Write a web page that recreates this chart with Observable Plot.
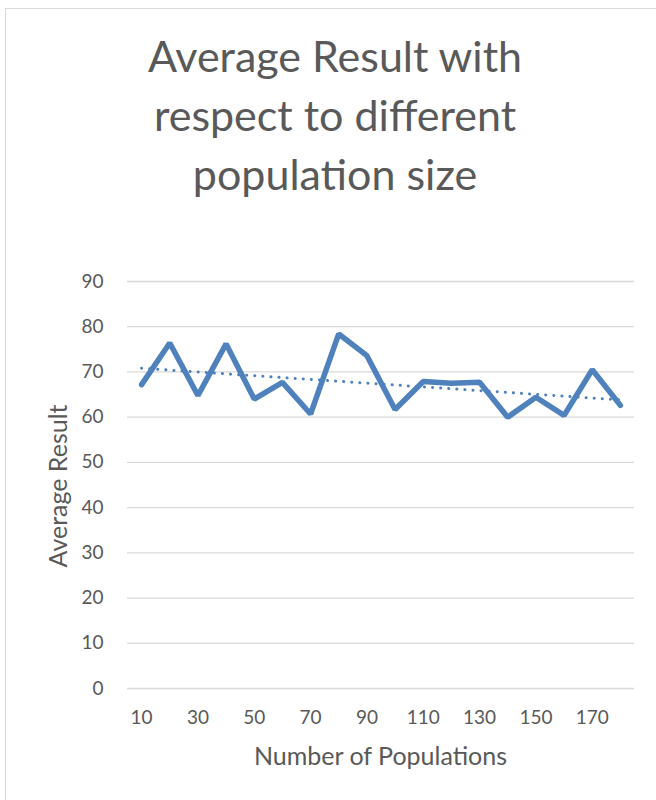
<!DOCTYPE html>
<html>
<head>
<meta charset="utf-8">
<script src="https://cdn.jsdelivr.net/npm/d3@7"></script>
<script src="https://cdn.jsdelivr.net/npm/@observablehq/plot@0.6"></script>
<style>
  body { margin: 0; background: #fff; font-family: Lato, "Open Sans", sans-serif; }
  #frame { position: absolute; left: 5px; top: 8px; width: 652px; height: 800px; border: 1px solid #d9d9d9; box-sizing: border-box; }
  #title { position: absolute; left: 0; top: 26px; width: 670px; text-align: center; font-size: 43px; line-height: 59px; color: #595959; }
  #chart { position: absolute; left: 0; top: 240px; }
  #xlabel { position: absolute; left: 127px; width: 507px; top: 740px; text-align: center; font-size: 25px; line-height: 30px; color: #595959; }
  #ylabel { position: absolute; left: 57px; top: 486px; transform: translate(-50%, -50%) rotate(-90deg); white-space: nowrap; font-size: 25px; line-height: 30px; color: #595959; }
</style>
</head>
<body>
<div id="frame"></div>
<div id="title">Average Result with<br>respect to different<br>population size</div>
<div id="chart"></div>
<div id="xlabel">Number of Populations</div>
<div id="ylabel">Average Result</div>
<script>
const populations = [10, 20, 30, 40, 50, 60, 70, 80, 90, 100, 110, 120, 130, 140, 150, 160, 170, 180];
const averageResult = [67.2, 76.4, 64.8, 76.2, 64.0, 67.7, 60.7, 78.4, 73.6, 61.7, 67.9, 67.5, 67.7, 60.0, 64.4, 60.4, 70.5, 62.6];
const xTicks = [10, 30, 50, 70, 90, 110, 130, 150, 170];
const yTicks = [0, 10, 20, 30, 40, 50, 60, 70, 80, 90];

const data = populations.map((p, i) => ({ p, v: averageResult[i] }));

const chart = Plot.plot({
  width: 656,
  height: 560,
  marginLeft: 127,
  marginRight: 22,
  marginTop: 41,
  marginBottom: 112,
  style: { fontFamily: "Lato, 'Open Sans', sans-serif", fontSize: "19px", color: "#595959", background: "transparent" },
  x: { type: "linear", domain: [5, 185] },
  y: { domain: [0, 90] },
  marks: [
    Plot.gridY(yTicks, { stroke: "#d9d9d9", strokeOpacity: 1, strokeWidth: 1.3 }),
    Plot.axisY(yTicks, { tickSize: 0, tickPadding: 24, label: null, fill: "#595959" }),
    Plot.axisX(xTicks, { tickSize: 0, tickPadding: 22, label: null, fill: "#595959" }),
    Plot.linearRegressionY(data, { x: "p", y: "v", ci: 0, stroke: "#4f81bd", strokeWidth: 3, strokeDasharray: "0.1,8", strokeLinecap: "round" }),
    Plot.line(data, { x: "p", y: "v", stroke: "#4f81bd", strokeWidth: 5.5, strokeLinejoin: "miter", strokeLinecap: "round" })
  ]
});
document.getElementById("chart").appendChild(chart);
</script>
</body>
</html>
